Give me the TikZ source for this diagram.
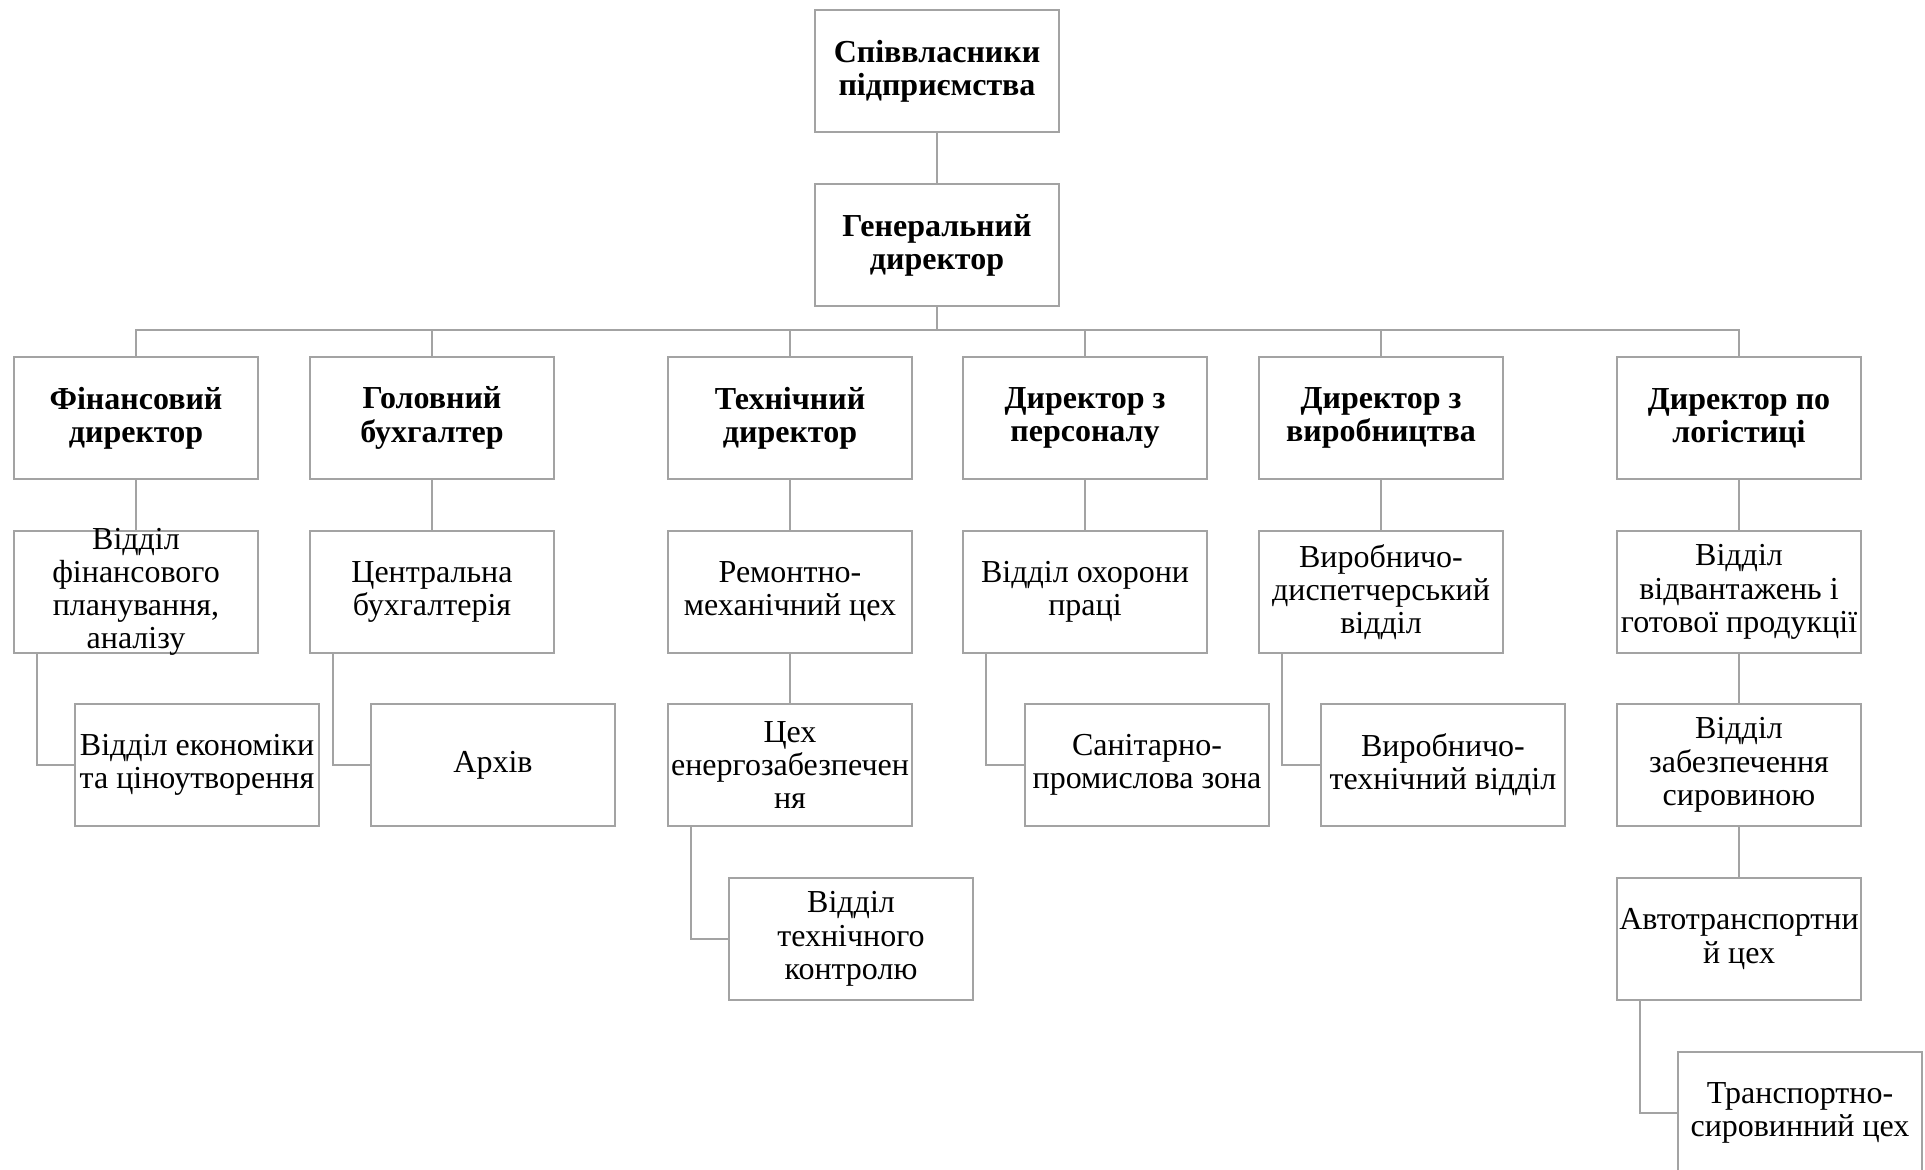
\documentclass[tikz,border=0pt]{standalone}
\usepackage{fontspec}
\setmainfont{Liberation Serif}
\definecolor{linegray}{RGB}{163,163,163}
\tikzset{
  box/.style={draw=linegray, line width=1pt, rectangle, minimum width=122pt, minimum height=61pt, inner sep=0pt, anchor=north west},
  txt/.style={align=center, inner sep=0pt, font=\fontsize{16pt}{16.6pt}\selectfont},
  btxt/.style={align=center, inner sep=0pt, font=\fontsize{16pt}{16.6pt}\selectfont\bfseries},
  conn/.style={draw=linegray, line width=1pt},
}
\begin{document}
\begin{tikzpicture}[x=0.5pt,y=-0.5pt]
\useasboundingbox[fill=white] (0,0) rectangle (1925,1170);
% top
\node[box] (own) at (814,9) {};
\node[btxt] (ownt) at (own.center) {Співвласники\\підприємства};
\node[box] (gen) at (814,183) {};
\node[btxt] (gent) at (gen.center) {Генеральний\\директор};
% directors
\node[box] (fin) at (13,356) {};
\node[btxt] (fint) at (fin.center) {Фінансовий\\директор};
\node[box] (gol) at (309,356) {};
\node[btxt] (golt) at (gol.center) {Головний\\бухгалтер};
\node[box] (tech) at (667,356) {};
\node[btxt] (techt) at (tech.center) {Технічний\\директор};
\node[box] (pers) at (962,356) {};
\node[btxt] (perst) at (pers.center) {Директор з\\персоналу};
\node[box] (vyr) at (1258,356) {};
\node[btxt] (vyrt) at (vyr.center) {Директор з\\виробництва};
\node[box] (log) at (1616,356) {};
\node[btxt] (logt) at (log.center) {Директор по\\логістиці};
% level 3
\node[box] (fin3) at (13,530) {};
\node[txt] (fin3t) at (fin3.center) {Відділ\\фінансового\\планування,\\аналізу};
\node[box] (gol3) at (309,530) {};
\node[txt] (gol3t) at (gol3.center) {Центральна\\бухгалтерія};
\node[box] (tech3) at (667,530) {};
\node[txt] (tech3t) at (tech3.center) {Ремонтно-\\механічний цех};
\node[box] (pers3) at (962,530) {};
\node[txt] (pers3t) at (pers3.center) {Відділ охорони\\праці};
\node[box] (vyr3) at (1258,530) {};
\node[txt] (vyr3t) at (vyr3.center) {Виробничо-\\диспетчерський\\відділ};
\node[box] (log3) at (1616,530) {};
\node[txt] (log3t) at (log3.center) {Відділ\\відвантажень і\\готової продукції};
% level 4
\node[box] (fin4) at (74,703) {};
\node[txt] (fin4t) at (fin4.center) {Відділ економіки\\та ціноутворення};
\node[box] (gol4) at (370,703) {};
\node[txt] (gol4t) at (gol4.center) {Архів};
\node[box] (tech4) at (667,703) {};
\node[txt] (tech4t) at (tech4.center) {Цех\\енергозабезпечен\\ня};
\node[box] (pers4) at (1024,703) {};
\node[txt] (pers4t) at (pers4.center) {Санітарно-\\промислова зона};
\node[box] (vyr4) at (1320,703) {};
\node[txt] (vyr4t) at (vyr4.center) {Виробничо-\\технічний відділ};
\node[box] (log4) at (1616,703) {};
\node[txt] (log4t) at (log4.center) {Відділ\\забезпечення\\сировиною};
% level 5
\node[box] (tech5) at (728,877) {};
\node[txt] (tech5t) at (tech5.center) {Відділ\\технічного\\контролю};
\node[box] (log5) at (1616,877) {};
\node[txt] (log5t) at (log5.center) {Автотранспортни\\й цех};
% level 6
\node[box] (log6) at (1677,1051) {};
\node[txt] (log6t) at (log6.center) {Транспортно-\\сировинний цех};
% connectors
\coordinate (bus) at (0,330);
\draw[conn] (own.south) -- (gen.north);
\draw[conn] (gen.south) -- (gen.south |- bus);
\draw[conn] (fin.north) -- (fin.north |- bus) -- (log.north |- bus) -- (log.north);
\foreach \n in {gol,tech,pers,vyr}{\draw[conn] (\n.north) -- (\n.north |- bus);}
\foreach \n in {fin,gol,tech,pers,vyr,log}{\draw[conn] (\n.south) -- (\n3.north);}
\draw[conn] (tech3.south) -- (tech4.north);
\draw[conn] (log3.south) -- (log4.north);
\draw[conn] (log4.south) -- (log5.north);
\draw[conn] ([xshift=12pt]fin3.south west) |- (fin4.west);
\draw[conn] ([xshift=12pt]gol3.south west) |- (gol4.west);
\draw[conn] ([xshift=12pt]pers3.south west) |- (pers4.west);
\draw[conn] ([xshift=12pt]vyr3.south west) |- (vyr4.west);
\draw[conn] ([xshift=12pt]tech4.south west) |- (tech5.west);
\draw[conn] ([xshift=12pt]log5.south west) |- (log6.west);
\end{tikzpicture}
\end{document}
